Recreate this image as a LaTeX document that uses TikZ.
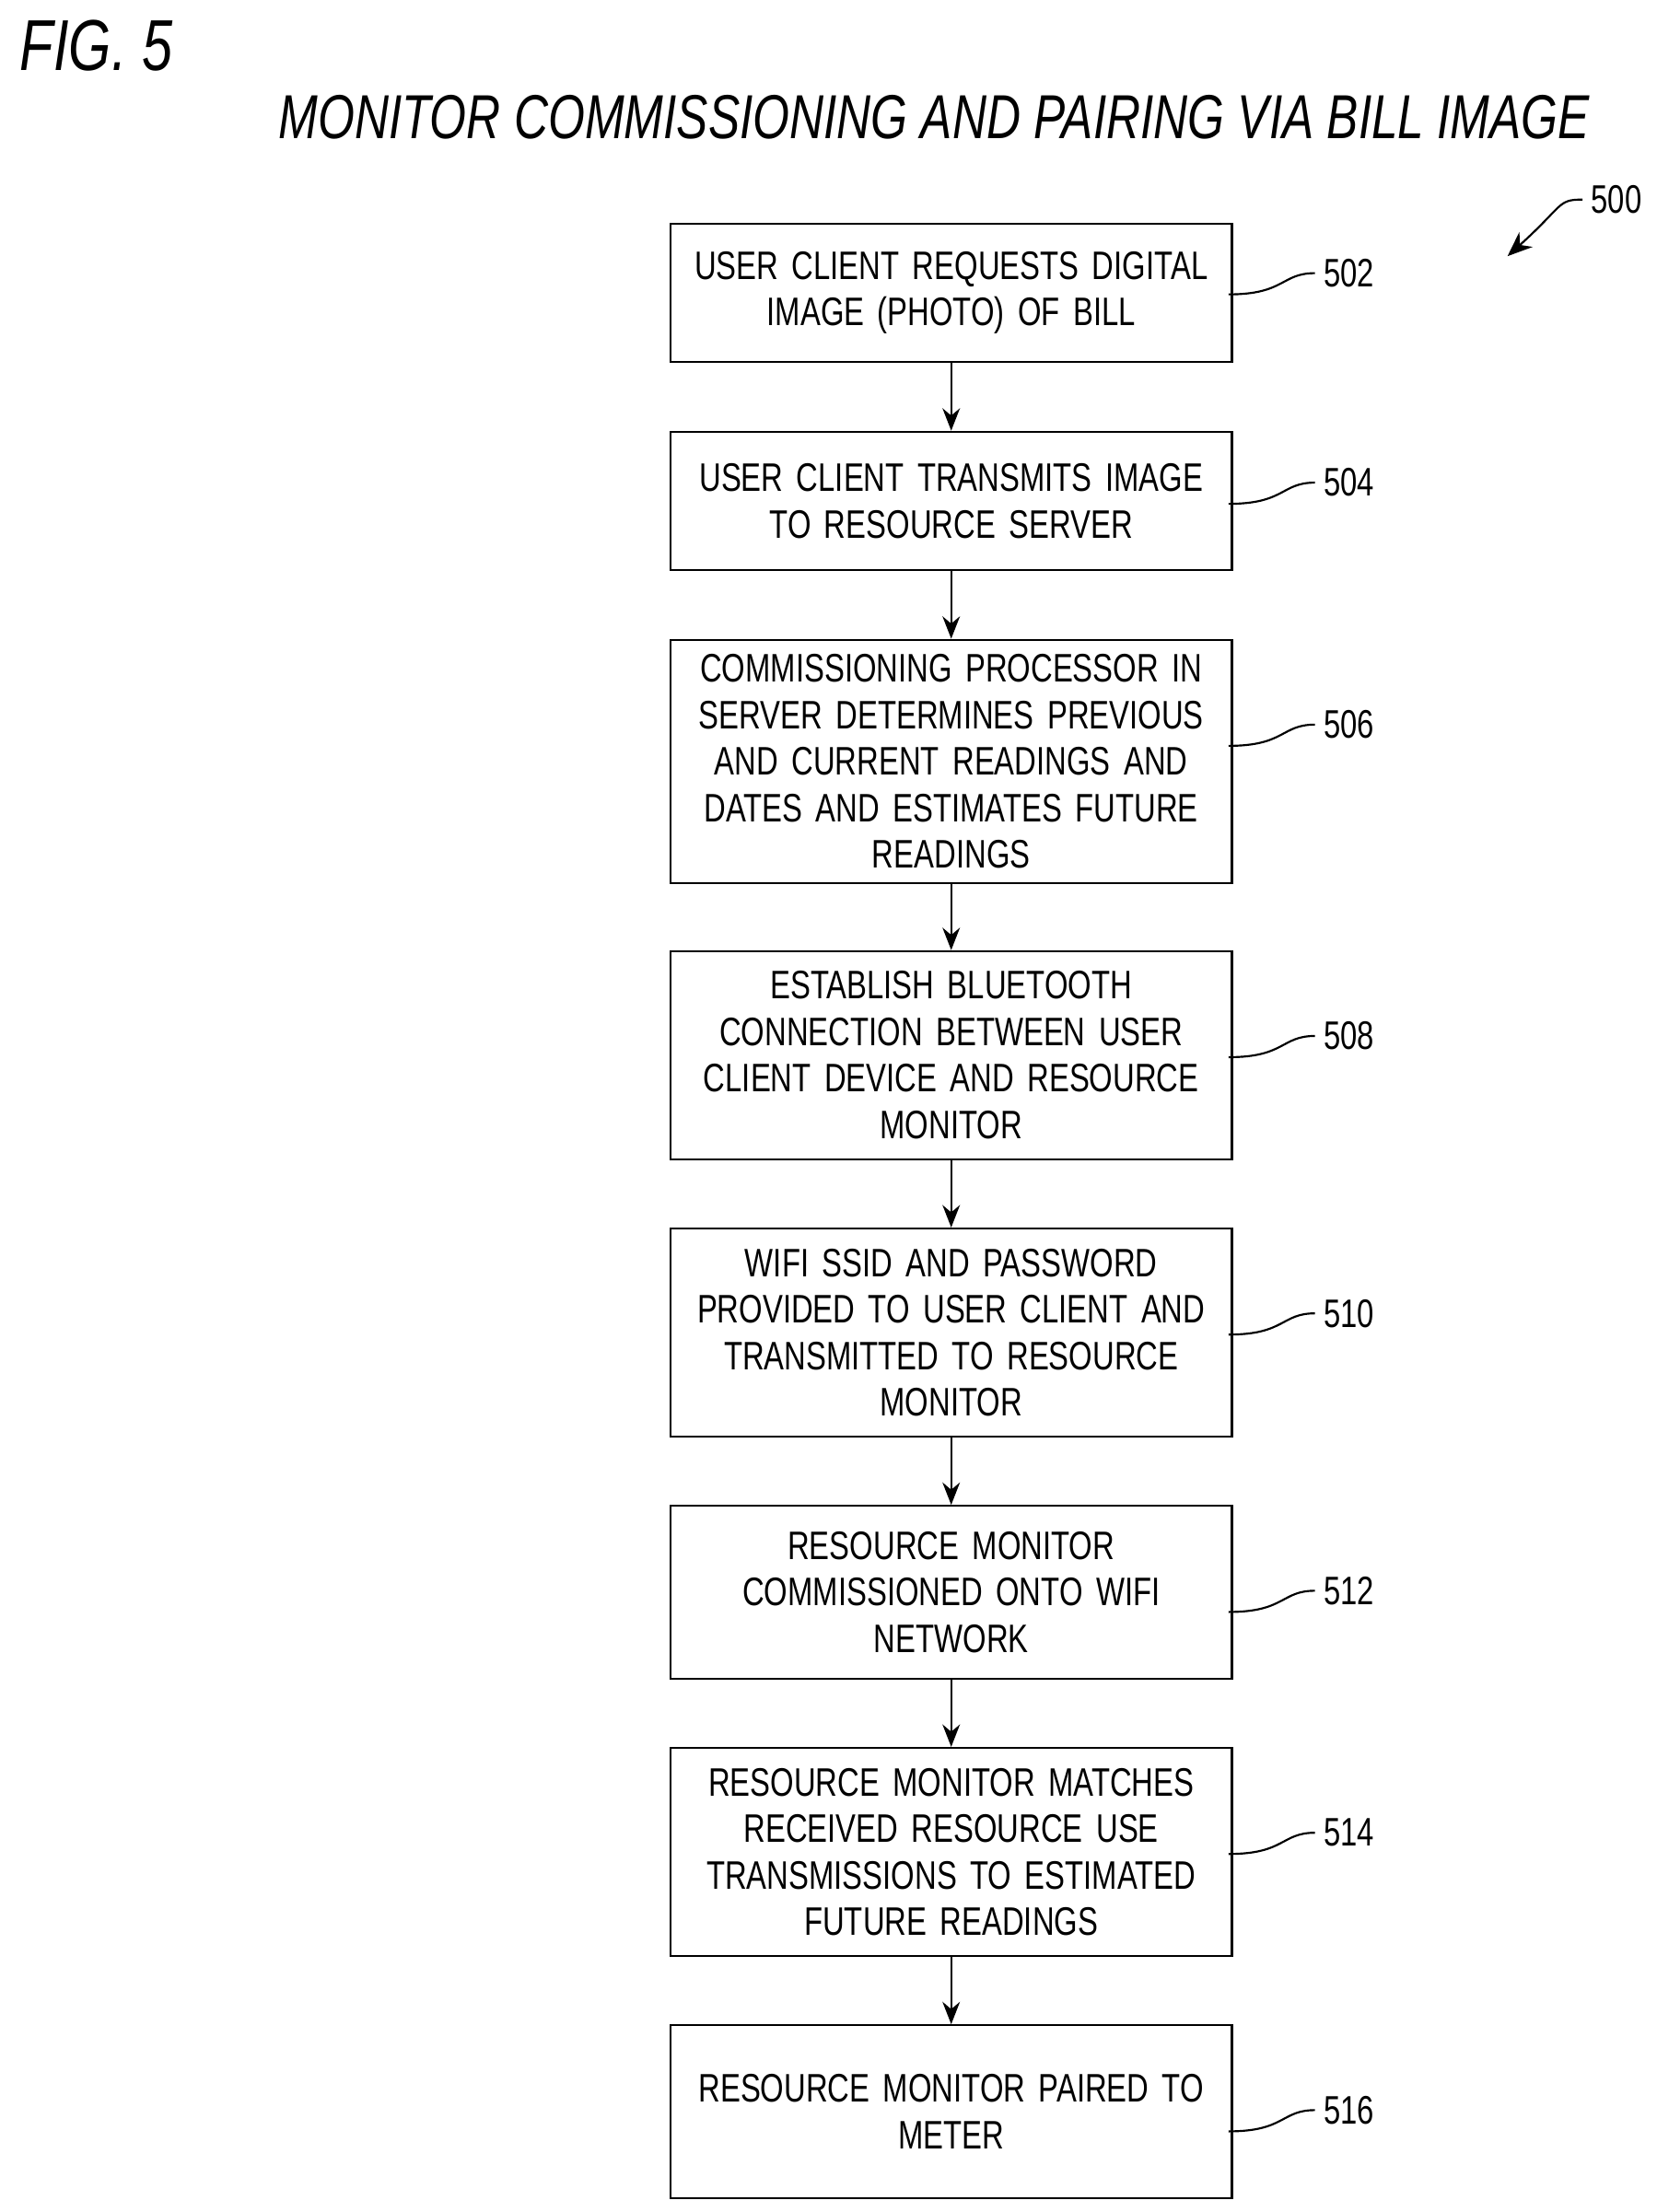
\documentclass[tikz,border=0pt]{standalone}
\usepackage{fontspec}
\setmainfont{Liberation Sans}[FakeStretch=0.76]
\usetikzlibrary{arrows.meta}
\begin{document}
\begin{tikzpicture}[x=0.02cm,y=-0.02cm,
		flowbox/.style={draw,thick,minimum width=7.8cm,align=center,text width=7.7cm,
			font=\fontsize{16}{18.7}\selectfont},
		refnum/.style={font=\fontsize{16}{18.7}\selectfont},
		flow/.style={thick,-{Stealth[length=9pt,width=7pt]}}]
		\useasboundingbox (0,0) rectangle (1170,1563);
		
		\node[font=\fontsize{29}{34}\selectfont\itshape] (fig) at (68,32) {FIG. 5};
		\node[font=\fontsize{25}{30}\selectfont\itshape] (title) at (660,83) {MONITOR COMMISSIONING AND PAIRING VIA BILL IMAGE};
		
		\node[refnum] (r500) at (1142,141) {500};
		\coordinate (a500) at (1065,181);
		\draw[thick,-{Stealth[length=10pt,width=8pt]}] (r500.west) .. controls (1100,141) and (1105,145) .. (a500);
		
		% steps
		\node[flowbox,minimum height=1.96cm] (s502) at (672,207) {USER CLIENT REQUESTS DIGITAL\\IMAGE (PHOTO) OF BILL};
		\node[flowbox,minimum height=1.96cm] (s504) at (672,354) {USER CLIENT TRANSMITS IMAGE\\TO RESOURCE SERVER};
		\node[flowbox,minimum height=3.44cm] (s506) at (672,538) {COMMISSIONING PROCESSOR IN\\SERVER DETERMINES PREVIOUS\\AND CURRENT READINGS AND\\DATES AND ESTIMATES FUTURE\\READINGS};
		\node[flowbox,minimum height=2.94cm] (s508) at (672,745.5) {ESTABLISH BLUETOOTH\\CONNECTION BETWEEN USER\\CLIENT DEVICE AND RESOURCE\\MONITOR};
		\node[flowbox,minimum height=2.94cm] (s510) at (672,941.5) {WIFI SSID AND PASSWORD\\PROVIDED TO USER CLIENT AND\\TRANSMITTED TO RESOURCE\\MONITOR};
		\node[flowbox,minimum height=2.44cm] (s512) at (672,1125) {RESOURCE MONITOR\\COMMISSIONED ONTO WIFI\\NETWORK};
		\node[flowbox,minimum height=2.94cm] (s514) at (672,1308.5) {RESOURCE MONITOR MATCHES\\RECEIVED RESOURCE USE\\TRANSMISSIONS TO ESTIMATED\\FUTURE READINGS};
		\node[flowbox,minimum height=2.44cm] (s516) at (672,1492) {RESOURCE MONITOR PAIRED TO\\METER};
		
		\foreach \a/\b in {s502/s504,s504/s506,s506/s508,s508/s510,s510/s512,s512/s514,s514/s516}
			\draw[flow] (\a) -- (\b);
		
		% reference numerals
		\foreach \s/\y in {502/193,504/341,506/512,508/732,510/928,512/1124,514/1295,516/1491} {
			\node[refnum] (n\s) at (953,\y) {\s};
			\draw[thick] (n\s.west) .. controls (905,\y) and (908,\y+15) .. (868,\y+15);
		}
\end{tikzpicture}
\end{document}
